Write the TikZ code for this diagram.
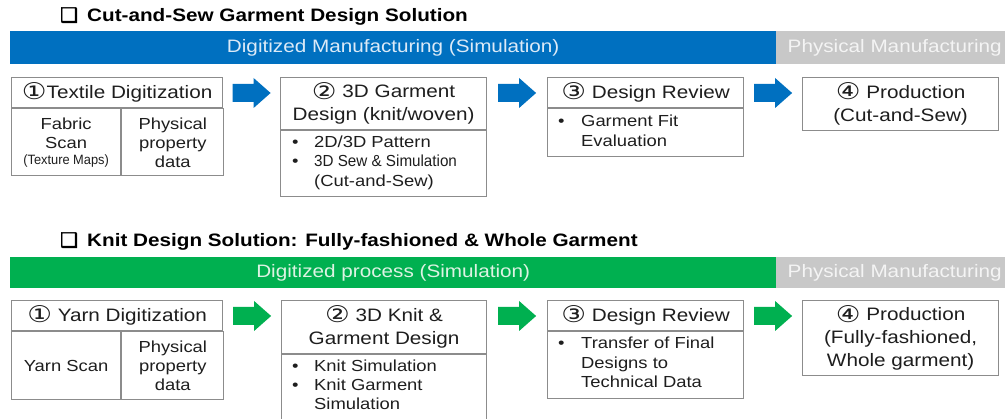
\documentclass[tikz,border=0pt]{standalone}
\usepackage{fontspec}
\setmainfont{Liberation Sans}[FakeStretch=1.15]
\newfontfamily\condf{Liberation Sans}[FakeStretch=0.95]
\newfontfamily\symf{DejaVu Sans}[FakeStretch=1.2]
\newfontfamily\dingf{DejaVu Sans}[FakeBold=2]
\usetikzlibrary{calc}
\definecolor{mblue}{HTML}{0070C0}
\definecolor{mgreen}{HTML}{00B050}
\definecolor{mgray}{HTML}{C8C8C8}
\definecolor{lineg}{HTML}{8C8C8C}
\definecolor{txt}{HTML}{1E1E1E}
\definecolor{bluetxt}{HTML}{DCEAF7}
\definecolor{greentxt}{HTML}{DDF3E3}
\definecolor{graytxt}{HTML}{F4F4F4}
\newcommand\cnum[1]{\raisebox{-1.5pt}{\symf\fontsize{23}{23}\selectfont #1}}
\newcommand\flowarrow[3]{%
  \coordinate (#2-#3) at ($(#2.north east)!0.5!(#3.north west)+(0,16)$);
  \fill[#1, shift={(#2-#3)}] (-19,-9) -- (2,-9) -- (2,-15) -- (19,0) -- (2,15) -- (2,9) -- (-19,9) -- cycle;}
\begin{document}
\begin{tikzpicture}[x=1pt,y=-1pt,
  stepbox/.style={draw=lineg, line width=1.2pt, anchor=north west, inner sep=0pt},
  hdr/.style={text=txt, font=\fontsize{18}{23}\selectfont, align=center},
  body/.style={text=txt, font=\fontsize{16}{19}\selectfont, align=center},
  blist/.style={text=txt, font=\fontsize{16}{19}\selectfont, anchor=base west, inner sep=0pt},
  bar/.style={anchor=north west, inner sep=0pt, font=\fontsize{18}{20}\selectfont},
  ttl/.style={anchor=base west, inner sep=0pt, text=black, font=\bfseries\fontsize{18}{20}\selectfont},
  chk/.style={anchor=base west, inner sep=0pt, text=black, font=\dingf\fontsize{20}{20}\selectfont}
]
\useasboundingbox (0,0) rectangle (1005,419);
\fill[white] (0,0) rectangle (1005,419);

% ---------- Section 1 ----------
\node[chk] (c1) at (60,22) {❑};
\node[ttl] (title1) at (87,22) {Cut-and-Sew Garment Design Solution};
\node[bar, fill=mblue, text=bluetxt, minimum width=766pt, minimum height=33pt] (bar1) at (10,31) {Digitized Manufacturing (Simulation)};
\node[bar, fill=mgray, text=graytxt, minimum width=229pt, minimum height=33pt] (pbar1) at (776,31) {\hspace{8pt}Physical Manufacturing};

\node[stepbox, hdr, minimum width=211pt, minimum height=30pt] (s1h) at (11,77) {\cnum{①}Textile Digitization};
\node[stepbox, body, minimum width=109pt, minimum height=67pt] (s1a) at (s1h.south west) {Fabric\\Scan\\[-3pt]{\condf\fontsize{13.5}{14}\selectfont(Texture Maps)}};
\node[stepbox, body, minimum width=102pt, minimum height=67pt] (s1b) at (s1a.north east) {Physical\\property\\data};

\node[stepbox, hdr, minimum width=206pt, minimum height=52pt] (s2h) at (280,77) {\cnum{②} 3D Garment\\Design (knit/woven)};
\node[stepbox, minimum width=206pt, minimum height=66pt] (s2b) at (s2h.south west) {};
\node[blist] (s2d1) at (292,148) {•};
\node[blist] (s2t1) at (314,148) {2D/3D Pattern};
\node[blist] (s2d2) at (292,167) {•};
\node[blist] (s2t2) at (314,167) {\condf 3D Sew \& Simulation};
\node[blist] (s2t3) at (314,187) {(Cut-and-Sew)};

\node[stepbox, hdr, minimum width=196pt, minimum height=30pt] (s3h) at (547,77) {\cnum{③} Design Review};
\node[stepbox, minimum width=196pt, minimum height=48pt] (s3b) at (s3h.south west) {};
\node[blist] (s3d1) at (558,127) {•};
\node[blist] (s3t1) at (581,127) {Garment Fit};
\node[blist] (s3t2) at (581,147) {Evaluation};

\node[stepbox, hdr, minimum width=196pt, minimum height=53pt] (s4h) at (802,77) {\cnum{④} Production\\(Cut-and-Sew)};

\flowarrow{mblue}{s1h}{s2h}
\flowarrow{mblue}{s2h}{s3h}
\flowarrow{mblue}{s3h}{s4h}

% ---------- Section 2 ----------
\node[chk] (c2) at (60,247) {❑};
\node[ttl] (title2) at (87,247) {Knit Design Solution: Fully-fashioned \& Whole Garment};
\node[bar, fill=mgreen, text=greentxt, minimum width=766pt, minimum height=31pt] (bar2) at (10,257) {Digitized process (Simulation)};
\node[bar, fill=mgray, text=graytxt, minimum width=229pt, minimum height=31pt] (pbar2) at (776,257) {\hspace{8pt}Physical Manufacturing};

\node[stepbox, hdr, minimum width=211pt, minimum height=30pt] (t1h) at (11,300) {\cnum{①} Yarn Digitization};
\node[stepbox, body, minimum width=109pt, minimum height=68pt] (t1a) at (t1h.south west) {Yarn Scan};
\node[stepbox, body, minimum width=102pt, minimum height=68pt] (t1b) at (t1a.north east) {Physical\\property\\data};

\node[stepbox, hdr, minimum width=205pt, minimum height=53pt] (t2h) at (281,300) {\cnum{②} 3D Knit \&\\Garment Design};
\node[stepbox, minimum width=205pt, minimum height=65pt] (t2b) at (t2h.south west) {};
\node[blist] (t2d1) at (292,372) {•};
\node[blist] (t2t1) at (314,372) {Knit Simulation};
\node[blist] (t2d2) at (292,391) {•};
\node[blist] (t2t2) at (314,391) {Knit Garment};
\node[blist] (t2t3) at (314,410) {Simulation};

\node[stepbox, hdr, minimum width=196pt, minimum height=30pt] (t3h) at (547,300) {\cnum{③} Design Review};
\node[stepbox, minimum width=196pt, minimum height=67pt] (t3b) at (t3h.south west) {};
\node[blist] (t3d1) at (558,349) {•};
\node[blist] (t3t1) at (581,349) {Transfer of Final};
\node[blist] (t3t2) at (581,369) {Designs to};
\node[blist] (t3t3) at (581,388) {Technical Data};

\node[stepbox, hdr, minimum width=196pt, minimum height=75pt] (t4h) at (802,300) {\cnum{④} Production\\(Fully-fashioned,\\Whole garment)};

\flowarrow{mgreen}{t1h}{t2h}
\flowarrow{mgreen}{t2h}{t3h}
\flowarrow{mgreen}{t3h}{t4h}
\end{tikzpicture}
\end{document}
